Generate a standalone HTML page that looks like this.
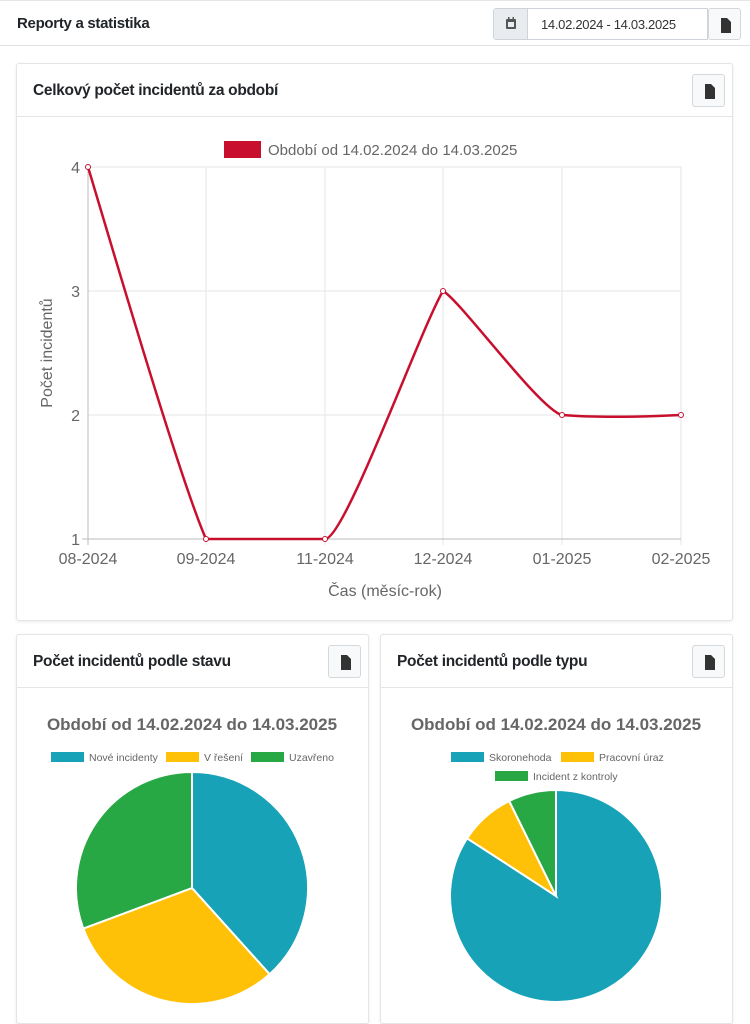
<!DOCTYPE html>
<html><head><meta charset="utf-8"><style>
*{box-sizing:border-box;margin:0;padding:0}
body{width:750px;height:1024px;background:#fff;font-family:"Liberation Sans",sans-serif;position:relative;overflow:hidden;color:#212529}
.hdr{position:absolute;left:0;top:0;width:750px;height:46px;border-bottom:1px solid #dee2e6;border-top:1px solid #e5e5e5}
.hdr .t{position:absolute;left:17px;top:14px;font-size:15px;font-weight:bold;letter-spacing:-0.3px}
.date{position:absolute;left:493px;top:7px;width:215px;height:32px;border:1px solid #ced4da;border-radius:3px 0 0 3px;background:#fff}
.date .ic{position:absolute;left:0;top:0;width:34px;height:30px;background:#e9ecef;border-right:1px solid #ced4da}
.date .tx{position:absolute;left:47px;top:8px;font-size:13px;color:#333;letter-spacing:-0.3px}
.btn{position:absolute;width:33px;height:33px;border:1px solid #d5d8db;border-radius:3px;background:#f8f9fa}
.card{position:absolute;border:1px solid #e3e5e7;border-radius:3px;background:#fff;box-shadow:0 1px 3px rgba(0,0,0,.08)}
.card .h{position:absolute;left:0;top:0;right:0;height:53px;border-bottom:1px solid #e3e5e7}
.card .h span{position:absolute;left:16px;top:18px;font-size:15.5px;font-weight:bold;letter-spacing:-0.3px}
svg text{font-family:"Liberation Sans",sans-serif}
</style></head><body>
<div class="hdr"><div class="t">Reporty a statistika</div>
<div class="date"><div class="ic"><svg width="34" height="30"><rect x="12" y="10" width="10" height="10" fill="#555" rx="1"/><rect x="14" y="13" width="6" height="5" fill="#e9ecef"/><rect x="14" y="8" width="1.5" height="3" fill="#555"/><rect x="18.5" y="8" width="1.5" height="3" fill="#555"/></svg></div><div class="tx">14.02.2024 - 14.03.2025</div></div>
<div class="btn" style="left:708px;top:7px;width:33px;height:32px"><svg width="33" height="32"><path d="M12 9h6l4 4v11h-10z" fill="#333"/></svg></div>
</div>

<div class="card" style="left:16px;top:63px;width:717px;height:558px">
<div class="h"><span>Celkový počet incidentů za období</span></div>
<div class="btn" style="left:675px;top:10px"><svg width="33" height="33"><path d="M12 9h6l4 4v11h-10z" fill="#333"/></svg></div>
</div>
<div class="card" style="left:16px;top:634px;width:353px;height:390px">
<div class="h"><span>Počet incidentů podle stavu</span></div>
<div class="btn" style="left:311px;top:10px"><svg width="33" height="33"><path d="M12 9h6l4 4v11h-10z" fill="#333"/></svg></div>
</div>
<div class="card" style="left:380px;top:634px;width:353px;height:390px">
<div class="h"><span>Počet incidentů podle typu</span></div>
<div class="btn" style="left:311px;top:10px"><svg width="33" height="33"><path d="M12 9h6l4 4v11h-10z" fill="#333"/></svg></div>
</div>

<svg style="position:absolute;left:0;top:0" width="750" height="1024">
<rect x="224" y="141" width="37" height="17" fill="#c8102e"/>
<text x="268" y="155" font-size="15" fill="#666">Období od 14.02.2024 do 14.03.2025</text>
<g stroke="#e6e6e6" stroke-width="1">
<line x1="88" y1="167" x2="681" y2="167"/><line x1="88" y1="291" x2="681" y2="291"/><line x1="88" y1="415" x2="681" y2="415"/>
<line x1="206" y1="167" x2="206" y2="545"/><line x1="325" y1="167" x2="325" y2="545"/><line x1="443" y1="167" x2="443" y2="545"/><line x1="562" y1="167" x2="562" y2="545"/><line x1="681" y1="167" x2="681" y2="545"/>
</g>
<line x1="88" y1="167" x2="88" y2="545" stroke="#bbb"/><line x1="82" y1="539" x2="681" y2="539" stroke="#bbb"/>
<g font-size="16" fill="#666" text-anchor="end">
<text x="80" y="173">4</text><text x="80" y="297">3</text><text x="80" y="421">2</text><text x="80" y="545">1</text></g>
<g font-size="16" fill="#666" text-anchor="middle">
<text x="88" y="564">08-2024</text><text x="206" y="564">09-2024</text><text x="325" y="564">11-2024</text><text x="443" y="564">12-2024</text><text x="562" y="564">01-2025</text><text x="681" y="564">02-2025</text>
<text x="385" y="596">Čas (měsíc-rok)</text>
<text transform="translate(52,353) rotate(-90)" >Počet incidentů</text></g>
<path d="M88 167 C110 240,180 480,206 539 L325 539 C345 539,420 330,443 291 C460 300,540 410,562 415 C600 418,640 417,681 415" fill="none" stroke="#c8102e" stroke-width="2.5"/>
<g fill="#fff" stroke="#c8102e" stroke-width="1"><circle cx="88" cy="167" r="2.5"/><circle cx="206" cy="539" r="2.5"/><circle cx="325" cy="539" r="2.5"/><circle cx="443" cy="291" r="2.5"/><circle cx="562" cy="415" r="2.5"/><circle cx="681" cy="415" r="2.5"/></g>

<g font-size="17" font-weight="bold" fill="#666" text-anchor="middle">
<text x="192" y="730">Období od 14.02.2024 do 14.03.2025</text>
<text x="556" y="730">Období od 14.02.2024 do 14.03.2025</text></g>
<g font-size="10.5" fill="#666">
<rect x="51" y="752" width="33" height="10" fill="#17a2b8"/><text x="89" y="761">Nové incidenty</text>
<rect x="166" y="752" width="33" height="10" fill="#ffc107"/><text x="204" y="761">V řešení</text>
<rect x="251" y="752" width="33" height="10" fill="#28a745"/><text x="289" y="761">Uzavřeno</text>
<rect x="451" y="752" width="33" height="10" fill="#17a2b8"/><text x="489" y="761">Skoronehoda</text>
<rect x="561" y="752" width="33" height="10" fill="#ffc107"/><text x="599" y="761">Pracovní úraz</text>
<rect x="495" y="771" width="33" height="10" fill="#28a745"/><text x="533" y="780">Incident z kontroly</text>
</g>
<g stroke="#fff" stroke-width="2">
<path d="M192 888 L192 772 A116 116 0 0 1 269.6 974.2 Z" fill="#17a2b8"/>
<path d="M192 888 L269.6 974.2 A116 116 0 0 1 83.3 928.6 Z" fill="#ffc107"/>
<path d="M192 888 L83.3 928.6 A116 116 0 0 1 192 772 Z" fill="#28a745"/>
<path d="M556 896 L556 790 A106 106 0 1 1 467.1 838.3 Z" fill="#17a2b8"/>
<path d="M556 896 L467.1 838.3 A106 106 0 0 1 509.2 801 Z" fill="#ffc107"/>
<path d="M556 896 L509.2 801 A106 106 0 0 1 556 790 Z" fill="#28a745"/>
</g>
</svg>
</body></html>
